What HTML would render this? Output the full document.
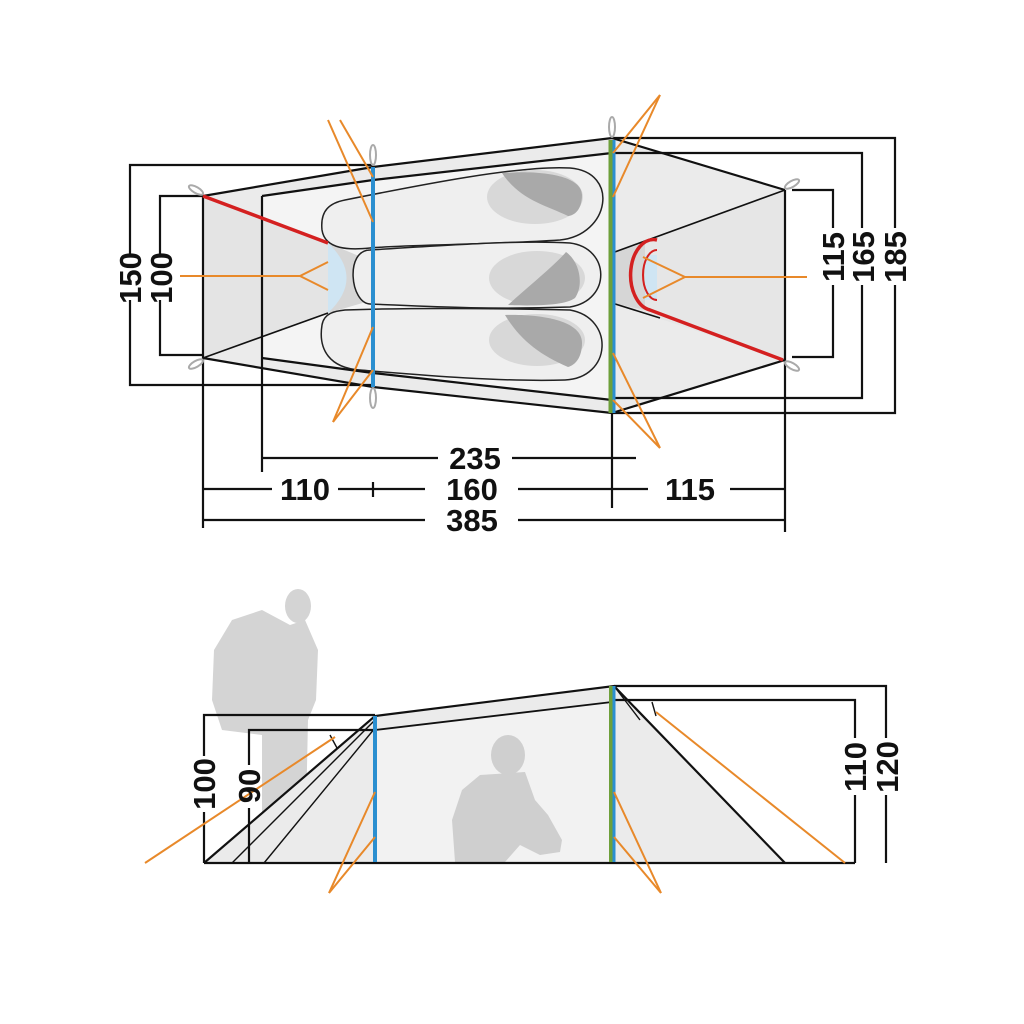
<!DOCTYPE html>
<html><head><style>
html,body{margin:0;padding:0;background:#fff;}
svg{display:block;}
text{font-family:"Liberation Sans Narrow","Liberation Sans",sans-serif;font-weight:bold;font-size:31px;fill:#111;}
</style></head><body>
<svg width="1024" height="1024" viewBox="0 0 1024 1024" xmlns="http://www.w3.org/2000/svg">
<rect width="1024" height="1024" fill="#fff"/>
<!-- ========== TOP VIEW ========== -->
<!-- fills -->
<polygon points="203,196 373,167 612,138 785,190 785,360 612,413 373,387 203,358" fill="#ebebeb"/>
<polygon points="262,196 373,180 612,153 612,400 373,373 262,358" fill="#f4f4f4"/>
<polygon points="203,196 328,243 328,313 203,358" fill="#e4e4e4"/>
<polygon points="612,253 785,190 785,360 612,303" fill="#e6e6e6"/>
<polygon points="328,243 373,262 373,300 328,313" fill="#d6d6d6"/>
<path d="M328,243 Q365,278 328,313 Z" fill="#cfe5f3"/>
<polygon points="612,253 645,243 645,310 612,303" fill="#d6d6d6"/>
<rect x="645" y="255" width="12" height="45" fill="#cfe5f3"/>
<!-- sleeping bags -->
<g fill="#efefef" stroke="#222" stroke-width="1.5">
<path d="M345,200 C420,185 520,165 570,168 C620,172 610,235 560,240 C480,245 400,245 370,248 C350,250 325,250 322,230 C320,210 330,203 345,200 Z"/>
<path d="M370,250 C450,245 520,240 570,243 C610,248 612,300 570,307 C480,310 420,306 370,304 C350,303 345,250 370,250 Z"/>
<path d="M345,310 C400,308 480,308 570,310 C615,318 612,378 565,380 C500,382 420,375 360,370 C330,368 318,350 322,325 C324,313 335,311 345,310 Z"/>
</g>
<g>
<ellipse cx="535" cy="197" rx="48" ry="27" fill="#d8d8d8"/>
<path d="M502,173 C540,170 582,175 582,195 C582,212 572,216 568,216 C545,205 520,200 502,173 Z" fill="#a9a9a9"/>
<ellipse cx="537" cy="278" rx="48" ry="27" fill="#d8d8d8"/>
<path d="M508,305 C530,285 555,265 566,252 C580,262 584,285 575,298 C565,306 530,306 508,305 Z" fill="#a9a9a9"/>
<ellipse cx="537" cy="340" rx="48" ry="26" fill="#d8d8d8"/>
<path d="M505,315 C540,314 582,320 582,343 C582,358 575,365 568,367 C540,355 520,340 505,315 Z" fill="#a9a9a9"/>
</g>
<!-- outlines -->
<g fill="none" stroke="#111" stroke-width="2.2">
<polyline points="203,196 373,167 612,138 785,190"/>
<polyline points="203,358 373,387 612,413 785,360"/>
<polyline points="262,196 373,180 612,153"/>
<polyline points="262,358 373,373 612,400"/>
<line x1="203" y1="358" x2="328" y2="313" stroke-width="1.6"/>
<line x1="612" y1="253" x2="785" y2="190" stroke-width="1.6"/>
<line x1="612" y1="303" x2="660" y2="318" stroke-width="1.6"/>
<line x1="612" y1="140" x2="612" y2="413"/>
<!-- dimension lines -->
<polyline points="373,165 130,165 130,255"/><polyline points="130,300 130,385 373,385"/>
<polyline points="203,196 160,196 160,255"/><polyline points="160,300 160,355 203,355"/>
<line x1="203" y1="196" x2="203" y2="528"/>
<line x1="262" y1="196" x2="262" y2="472"/>
<line x1="612" y1="413" x2="612" y2="508"/>
<line x1="785" y1="190" x2="785" y2="532"/>
<polyline points="792,190 833,190 833,228"/><polyline points="833,285 833,357 792,357"/>
<polyline points="612,153 862,153 862,228"/><polyline points="862,285 862,398 612,398"/>
<polyline points="612,138 895,138 895,228"/><polyline points="895,285 895,413 612,413"/>
<line x1="262" y1="458" x2="438" y2="458"/><line x1="512" y1="458" x2="636" y2="458"/>
<line x1="203" y1="489" x2="272" y2="489"/><line x1="338" y1="489" x2="425" y2="489"/>
<line x1="518" y1="489" x2="648" y2="489"/><line x1="730" y1="489" x2="785" y2="489"/>
<line x1="373" y1="482" x2="373" y2="497"/>
<line x1="203" y1="520" x2="425" y2="520"/><line x1="518" y1="520" x2="785" y2="520"/>
</g>
<!-- red -->
<line x1="203" y1="196" x2="328" y2="243" stroke="#d42020" stroke-width="3.5"/>
<path d="M657,240 A22,34 0 0 0 650,310 L783,360" fill="none" stroke="#d42020" stroke-width="3.5"/>
<path d="M657,250 A14,25 0 0 0 657,300" fill="none" stroke="#d42020" stroke-width="2"/>
<!-- poles -->
<line x1="373" y1="167" x2="373" y2="387" stroke="#2b8fd0" stroke-width="4"/>
<line x1="611" y1="140" x2="611" y2="413" stroke="#6ea03a" stroke-width="5"/>
<line x1="614" y1="140" x2="614" y2="413" stroke="#2b8fd0" stroke-width="3"/>
<g fill="none" stroke="#aaa" stroke-width="2">
<ellipse cx="373" cy="155" rx="3" ry="10"/><ellipse cx="373" cy="398" rx="3" ry="10"/>
<ellipse cx="612" cy="127" rx="3" ry="10"/>
<ellipse cx="196" cy="190" rx="8" ry="3" transform="rotate(30 196 190)"/>
<ellipse cx="196" cy="364" rx="8" ry="3" transform="rotate(-30 196 364)"/>
<ellipse cx="792" cy="184" rx="8" ry="3" transform="rotate(-30 792 184)"/>
<ellipse cx="792" cy="366" rx="8" ry="3" transform="rotate(30 792 366)"/>
</g>
<!-- orange guys -->
<g stroke="#e8892a" stroke-width="2" fill="none">
<polyline points="180,276 300,276 328,262"/><line x1="300" y1="276" x2="328" y2="290"/>
<line x1="328" y1="120" x2="373" y2="222"/><line x1="340" y1="120" x2="373" y2="177"/>
<line x1="333" y1="422" x2="373" y2="327"/><line x1="333" y1="422" x2="373" y2="370"/>
<line x1="660" y1="95" x2="613" y2="197"/><line x1="660" y1="95" x2="613" y2="153"/>
<line x1="660" y1="448" x2="613" y2="353"/><line x1="660" y1="448" x2="613" y2="400"/>
<polyline points="807,277 685,277 643,257"/><line x1="685" y1="277" x2="643" y2="298"/>
</g>
<!-- labels -->
<g>
<text transform="translate(141,278) rotate(-90)" text-anchor="middle">150</text>
<text transform="translate(172,278) rotate(-90)" text-anchor="middle">100</text>
<text transform="translate(844,257) rotate(-90)" text-anchor="middle">115</text>
<text transform="translate(874,257) rotate(-90)" text-anchor="middle">165</text>
<text transform="translate(906,257) rotate(-90)" text-anchor="middle">185</text>
<text x="475" y="469" text-anchor="middle">235</text>
<text x="305" y="500" text-anchor="middle">110</text>
<text x="472" y="500" text-anchor="middle">160</text>
<text x="690" y="500" text-anchor="middle">115</text>
<text x="472" y="531" text-anchor="middle">385</text>
</g>

<!-- ========== SIDE VIEW ========== -->
<!-- standing person -->
<g fill="#d4d4d4">
<ellipse cx="298" cy="606" rx="13" ry="17"/>
<path d="M232,620 L262,610 L290,625 L305,620 L318,650 L316,700 L308,720 L305,860 L262,860 L262,735 L222,730 L212,700 L214,650 Z"/>
</g>
<!-- tent fills -->
<polygon points="375,716 614,686 785,863 204,863" fill="#ebebeb"/>
<polygon points="375,730 612,702 612,862 375,862" fill="#f2f2f2"/>
<!-- sitting person -->
<g fill="#cfcfcf">
<ellipse cx="508" cy="755" rx="17" ry="20"/>
<path d="M480,775 L525,772 L535,800 L548,815 L562,840 L560,852 L540,855 L520,845 L505,862 L455,862 L452,820 L462,790 Z"/>
</g>
<g fill="none" stroke="#111" stroke-width="2.2">
<line x1="204" y1="863" x2="855" y2="863"/>
<polyline points="204,863 375,716 614,686 785,863"/>
<line x1="375" y1="730" x2="612" y2="702" stroke-width="1.8"/>
<line x1="375" y1="720" x2="232" y2="863" stroke-width="1.4"/>
<line x1="375" y1="728" x2="264" y2="863" stroke-width="1.4"/>
<line x1="614" y1="686" x2="640" y2="720" stroke-width="1.4"/>
<line x1="330" y1="735" x2="337" y2="748" stroke-width="1.4"/>
<line x1="652" y1="702" x2="656" y2="716" stroke-width="1.4"/>
<polyline points="375,715 204,715 204,756"/><line x1="204" y1="812" x2="204" y2="863"/>
<polyline points="375,730 249,730 249,765"/><line x1="249" y1="808" x2="249" y2="863"/>
<polyline points="614,700 855,700 855,738"/><line x1="855" y1="795" x2="855" y2="863"/>
<polyline points="614,686 886,686 886,738"/><line x1="886" y1="795" x2="886" y2="863"/>
</g>
<line x1="375" y1="716" x2="375" y2="862" stroke="#2b8fd0" stroke-width="4"/>
<line x1="611" y1="686" x2="611" y2="862" stroke="#6ea03a" stroke-width="4"/>
<line x1="614" y1="686" x2="614" y2="862" stroke="#2b8fd0" stroke-width="3"/>
<g stroke="#e8892a" stroke-width="2" fill="none">
<line x1="335" y1="737" x2="145" y2="863"/>
<line x1="656" y1="712" x2="845" y2="863"/>
<line x1="375" y1="792" x2="329" y2="893"/><line x1="375" y1="837" x2="329" y2="893"/>
<line x1="614" y1="792" x2="661" y2="893"/><line x1="614" y1="837" x2="661" y2="893"/>
</g>
<text transform="translate(215,784) rotate(-90)" text-anchor="middle">100</text>
<text transform="translate(260,786) rotate(-90)" text-anchor="middle">90</text>
<text transform="translate(866,767) rotate(-90)" text-anchor="middle">110</text>
<text transform="translate(898,767) rotate(-90)" text-anchor="middle">120</text>
</svg>
</body></html>
